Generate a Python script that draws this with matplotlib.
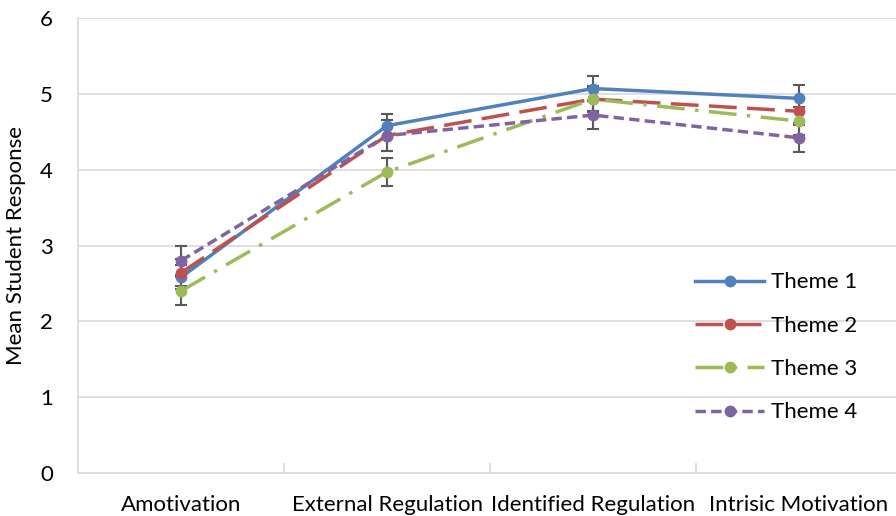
import matplotlib.pyplot as plt

categories = ["Amotivation", "External Regulation", "Identified Regulation", "Intrisic Motivation"]
series_names = ["Theme 1", "Theme 2", "Theme 3", "Theme 4"]

theme1 = [2.58, 4.58, 5.07, 4.94]
theme2 = [2.64, 4.45, 4.93, 4.77]
theme3 = [2.40, 3.97, 4.93, 4.64]
theme4 = [2.80, 4.45, 4.72, 4.42]

err1 = [0.16, 0.16, 0.16, 0.17]
err2 = [0.18, 0.20, 0.17, 0.18]
err3 = [0.19, 0.18, 0.16, 0.18]
err4 = [0.19, 0.20, 0.18, 0.19]

colors = ["#4F81BD", "#C0504D", "#9BBB59", "#8064A2"]
styles = ["-", (0, (8, 3)), (0, (8, 3, 1, 3)), (0, (3, 1.5))]

plt.rcParams['font.family'] = ['Lato', 'DejaVu Sans']


def main():
    fig = plt.figure(figsize=(8.96, 5.16), dpi=100)
    ax = fig.add_axes([78 / 896, 1 - 473 / 516, 824 / 896, 455 / 516])

    x = list(range(len(categories)))
    values = [theme1, theme2, theme3, theme4]
    errors = [err1, err2, err3, err4]
    for name, vals, errs, c, ls in zip(series_names, values, errors, colors, styles):
        ax.errorbar(x, vals, yerr=errs, fmt="none", ecolor="#595959",
                    elinewidth=1.5, capsize=4, capthick=1.5, zorder=2)
        ax.plot(x, vals, color=c, linestyle=ls, linewidth=2.5, marker="o",
                markersize=7.5, label=name, zorder=3)

    ax.set_xlim(-0.5, 3.5)
    ax.set_ylim(0, 6)
    ax.set_yticks(range(0, 7))
    ax.yaxis.grid(True, color="#D9D9D9", linewidth=1.2)
    ax.set_axisbelow(True)
    ax.tick_params(axis="y", length=0, labelsize=16, pad=18)

    ax.set_xticks(x)
    ax.set_xticklabels(categories)
    ax.tick_params(axis="x", length=0, labelsize=16, pad=16)
    ax.set_xticks([0.5, 1.5, 2.5], minor=True)
    ax.tick_params(axis="x", which="minor", direction="in", length=7,
                   color="#D9D9D9", width=1.2)

    for side in ["top", "right"]:
        ax.spines[side].set_visible(False)
    for side in ["left", "bottom"]:
        ax.spines[side].set_color("#D9D9D9")
        ax.spines[side].set_linewidth(1.2)

    ax.set_ylabel("Mean Student Response", fontsize=16, labelpad=10)

    ax.legend(loc="upper left", bbox_to_anchor=(0.725, 0.485), frameon=False,
              fontsize=16, handlelength=3.1, labelspacing=1.05, handletextpad=0.3)

    plt.savefig("out.png", dpi=100)
    plt.close()


if __name__ == '__main__':
    main()
